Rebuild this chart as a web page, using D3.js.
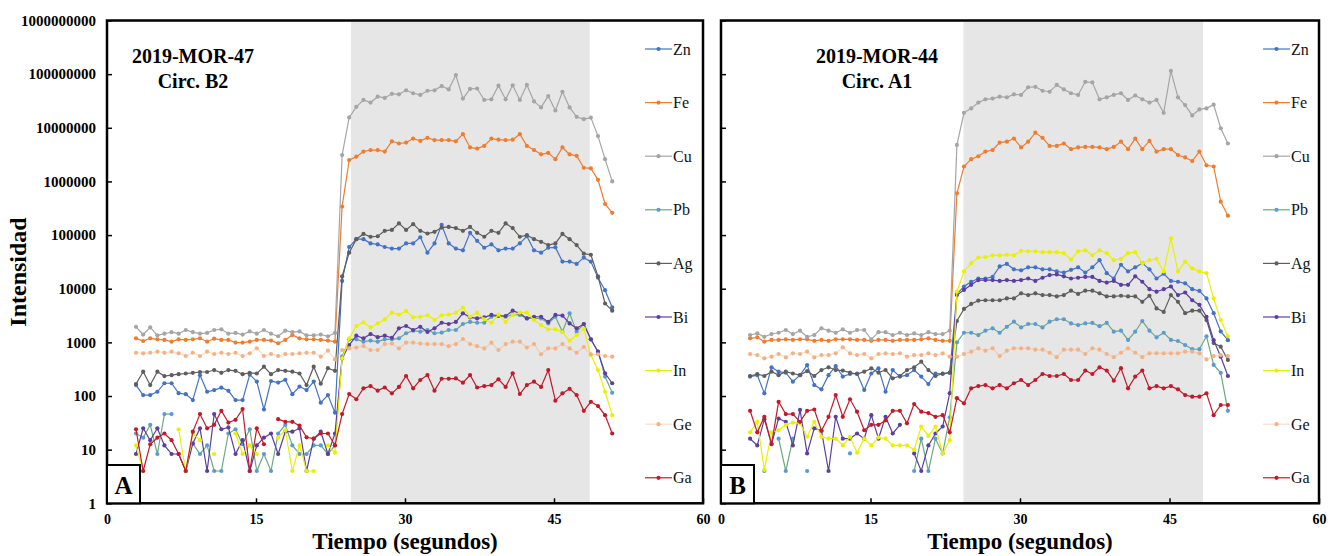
<!DOCTYPE html>
<html>
<head>
<meta charset="utf-8">
<script src="https://cdn.jsdelivr.net/npm/d3@7"></script>
<style>
  html, body { margin: 0; padding: 0; background: #fff; }
  svg { display: block; font-family: "Liberation Serif", "Times New Roman", serif; }
</style>
</head>
<body>
<script>
// Señal LA-ICP-MS por elemento (cps), dos inclusiones.
const tiempo = [2.92, 3.64, 4.35, 5.07, 5.78, 6.50, 7.21, 7.93, 8.64, 9.36, 10.08, 10.79, 11.51, 12.22,
  12.94, 13.65, 14.37, 15.08, 15.80, 16.51, 17.23, 17.95, 18.66, 19.38, 20.09, 20.81, 21.52, 22.24, 22.95,
  23.67, 24.38, 25.10, 25.82, 26.53, 27.25, 27.96, 28.68, 29.39, 30.11, 30.82, 31.54, 32.26, 32.97, 33.69,
  34.40, 35.12, 35.83, 36.55, 37.26, 37.98, 38.70, 39.41, 40.13, 40.84, 41.56, 42.27, 42.99, 43.70, 44.42,
  45.14, 45.85, 46.57, 47.28, 48.00, 48.71, 49.43, 50.14, 50.86];

const elementos = ["Zn", "Fe", "Cu", "Pb", "Ag", "Bi", "In", "Ge", "Ga"];
const ticksX = [0, 15, 30, 45, 60];
const ticksY = [1, 10, 100, 1e3, 1e4, 1e5, 1e6, 1e7, 1e8, 1e9];

// Intervalo de ablación (sombreado), en segundos
const sombraA = [24.55, 48.6];
const sombraB = [24.33, 48.36];

// ---- Panel A: 2019-MOR-47, Circ. B2
const znA = [160, 104, 104, 120, 173, 173, 113, 108, 84, 245, 120, 129, 143, 125, 84, 84, 250, 186, 56, 190, 178, 200, 108, 150, 129, 186, 75, 104, 49,
  1.4e4, 6.0e4, 8.4e4, 8.4e4, 7.0e4, 6.7e4, 6.0e4, 5.6e4, 5.6e4, 7.0e4, 7.0e4, 9.1e4, 4.7e4, 7.0e4, 1.55e5, 7.0e4, 5.6e4, 5.2e4, 1.1e5, 7.8e4,
  5.8e4, 6.7e4, 5.2e4, 5.6e4, 5.6e4, 7.0e4, 9.5e4, 5.2e4, 4.7e4, 5.8e4, 5.9e4, 3.2e4, 3.2e4, 2.9e4, 3.8e4, 3.2e4, 1.6e4, 9.4e3, 4.5e3];
const feA = [1190, 1060, 1190, 1140, 1110, 1030, 1140, 1110, 1140, 1190, 1030, 1170, 1110, 1110, 990, 990, 1030, 1110, 1110, 1080, 960, 1110, 1370, 1190, 1140, 1140, 1110, 1080, 1030,
  3.4e5, 2.5e6, 2.9e6, 3.6e6, 3.85e6, 3.85e6, 3.6e6, 5.6e6, 5.1e6, 5.3e6, 6.3e6, 5.7e6, 6.5e6, 5.9e6, 5.9e6, 5.9e6, 5.6e6, 7.6e6, 4.3e6, 4.1e6,
  4.6e6, 6.3e6, 6.0e6, 5.9e6, 6.0e6, 7.6e6, 4.6e6, 3.85e6, 3.2e6, 3.4e6, 2.6e6, 4.3e6, 3.2e6, 3.0e6, 1.8e6, 1.75e6, 1.07e6, 3.8e5, 2.6e5];
const cuA = [1950, 1400, 1900, 1350, 1450, 1550, 1450, 1700, 1550, 1450, 1500, 1700, 1750, 1450, 1500, 1400, 1600, 1450, 1700, 1450, 1300, 1650, 1550, 1600, 1350, 1350, 1400, 1300, 1500,
  3.1e6, 1.56e7, 2.46e7, 3.3e7, 2.95e7, 3.8e7, 3.6e7, 4.3e7, 4.2e7, 5.0e7, 4.4e7, 4.1e7, 4.9e7, 5.0e7, 6.0e7, 5.2e7, 9.6e7, 3.5e7, 5.3e7, 5.4e7,
  3.3e7, 3.4e7, 6.1e7, 3.4e7, 6.2e7, 3.3e7, 6.3e7, 3.1e7, 2.4e7, 3.9e7, 2.1e7, 4.7e7, 2.4e7, 1.6e7, 1.45e7, 1.55e7, 7.0e6, 2.6e6, 1.0e6];
const pbA = [20, 16.7, 29, 8.3, 46, 46, null, null, 13, 8.3, 12, 4, 4, 20, 24, 12.6, 24, 4, 8.3, 4, 20, 29, 12, 8.3, 8.3, 12, 12, 8.3, 12,
  550, 1140, 1140, 1030, 1080, 1030, 1140, 1140, 1190, 1480, 1650, 1580, 1700, 1480, 1520, 1700, 1700, 2200, 2400, 2320,
  2320, 3000, 3100, 3000, 3300, 3250, 2800, 2800, 2800, 2250, 3000, 1580, 3480, 1580, 2200, 1140, 670, 230, 115];
const agA = [167, 284, 160, 284, 235, 245, 255, 263, 270, 280, 280, 305, 270, 305, 295, 255, 270, 263, 352, 255, 305, 295, 284, 263, 160, 352, 170, 330, 295,
  1.7e4, 4.7e4, 8.4e4, 1.05e5, 9.3e4, 9.5e4, 1.2e5, 1.25e5, 1.65e5, 1.25e5, 1.6e5, 1.2e5, 1.07e5, 1.15e5, 1.38e5, 1.42e5, 1.35e5, 1.2e5, 1.42e5, 1.1e5,
  9.3e4, 1.2e5, 1.1e5, 1.65e5, 1.35e5, 9.3e4, 1.0e5, 8.4e4, 7.5e4, 6.5e4, 7.0e4, 1.05e5, 8.4e4, 6.5e4, 4.5e4, 4.3e4, 1.7e4, 5.3e3, 3.9e3];
const biA = [8.3, 25, 15, 25, 12, 8.3, 8.3, 4, 13, 25, 4, 46, 24, 26, 8.3, 15, 4, 12, 16.7, 20, 8.3, 21.6, 21.6, 25, 4, 16, 21.6, 8.3, 20,
  500, 890, 1330, 1190, 1430, 1250, 1330, 1220, 1830, 2020, 1700, 1950, 1560, 1830, 2320, 2200, 2400, 3480, 2930, 2800,
  2930, 3250, 3150, 3100, 3900, 3480, 2800, 3000, 3000, 2400, 3250, 3150, 2250, 1830, 2200, 1140, 670, 265, 173];
const inA = [12, 4, null, null, null, null, 24, 4, 20, 15, null, 8.3, null, null, 20, 8.3, 12, 8.3, null, null, 16.7, 23, 4, 12, 4, 4, null, 12, 8.8,
  505, 1190, 2020, 2350, 1900, 2250, 2700, 3570, 3300, 3850, 2930, 3000, 3200, 2610, 3200, 3300, 3570, 4430, 3000, 3570,
  2700, 2320, 3300, 2400, 3250, 3570, 3570, 2610, 2100, 1750, 1750, 1560, 1070, 1370, 1800, 580, 305, 120, 44];
const geA = [640, 625, 640, 670, 640, 670, 625, 557, 640, 557, 670, 607, 640, 607, 640, 557, 625, 775, 557, 607, 557, 607, 607, 625, 640, 640, 540, 700, 480,
  720, 770, 800, 850, 720, 720, 930, 950, 770, 985, 985, 950, 930, 930, 930, 850, 930, 1150, 930, 850,
  770, 985, 720, 930, 1030, 1030, 800, 930, 600, 770, 770, 930, 770, 640, 820, 600, 600, 557, 540];
const gaA = [24, 4, 12.6, 16.7, 20, 15, 8.3, 4, 21.6, 46, 25, 29, 53, 32, 36, 57, 4, 25, 12.6, null, 37, 33, 33, 28, 17, 16, 20, 20, 12,
  46, 109, 87, 139, 153, 126, 144, 112, 148, 236, 139, 199, 246, 126, 210, 210, 213, 177, 246, 144,
  153, 160, 205, 148, 265, 109, 160, 185, 148, 305, 82, 112, 136, 104, 53, 78, 65, 44, 20];

// ---- Panel B: 2019-MOR-44, Circ. A1
const znB = [230, 245, 112, 343, 284, 272, 185, 245, 378, 160, 133, 245, 363, 230, 257, 263, 130, 263, 328, 120, 305, 230, 245, 305, 230, 167, 263, 257, 272,
  8.0e3, 1.1e4, 1.35e4, 1.55e4, 1.55e4, 1.66e4, 2.6e4, 2.9e4, 2.3e4, 2.2e4, 2.5e4, 2.5e4, 2.3e4, 2.3e4, 2.1e4, 2.0e4, 2.25e4, 2.5e4, 2.0e4, 2.5e4,
  3.4e4, 1.95e4, 1.55e4, 2.8e4, 2.1e4, 2.5e4, 3.0e4, 2.3e4, 1.55e4, 1.9e4, 1.4e4, 1.35e4, 1.26e4, 9.8e3, 9.1e3, 6.6e3, 3.5e3, 1.6e3, 1.1e3];
const feB = [1190, 1240, 1030, 1110, 1110, 1140, 1110, 1140, 1140, 1070, 1110, 1070, 1140, 1140, 1140, 1110, 1110, 1070, 1110, 1110, 1070, 1110, 1110, 1110, 1140, 1190, 1110, 1070, 1070,
  6.0e5, 1.9e6, 2.6e6, 2.95e6, 3.6e6, 3.85e6, 5.3e6, 5.5e6, 6.3e6, 4.3e6, 5.5e6, 8.1e6, 6.5e6, 4.6e6, 4.6e6, 5.1e6, 4.0e6, 4.3e6, 4.4e6, 4.4e6,
  4.3e6, 4.0e6, 4.4e6, 5.5e6, 4.0e6, 6.3e6, 4.0e6, 5.7e6, 3.6e6, 4.0e6, 4.0e6, 3.1e6, 2.8e6, 2.4e6, 3.6e6, 2.0e6, 1.9e6, 4.2e5, 2.3e5];
const cuB = [1370, 1470, 1270, 1430, 1510, 1700, 1430, 1650, 1270, 1370, 1830, 1650, 1510, 1750, 1510, 1700, 1700, 1140, 1550, 1550, 1370, 1510, 1370, 1470, 1370, 1550, 1430, 1430, 1650,
  4.8e6, 1.9e7, 2.3e7, 2.95e7, 3.4e7, 3.5e7, 3.8e7, 3.7e7, 4.2e7, 4.1e7, 5.7e7, 5.8e7, 4.9e7, 4.7e7, 6.3e7, 5.2e7, 4.4e7, 4.1e7, 7.2e7, 7.0e7,
  3.4e7, 3.7e7, 4.1e7, 4.4e7, 3.3e7, 4.0e7, 3.4e7, 2.95e7, 3.3e7, 1.9e7, 1.15e8, 3.7e7, 2.65e7, 1.7e7, 2.2e7, 2.3e7, 2.7e7, 9.8e6, 5.1e6];
const pbB = [4, null, 4, null, 16, 4, 16, null, 4, null, null, null, null, null, 8.5, null, null, null, null, null, null, null, null, 4, 16, 4, 16, 8.5, 40,
  1000, 1510, 1510, 1370, 1650, 1830, 1510, 1950, 2430, 1900, 2200, 2200, 1900, 2430, 2700, 2700, 2250, 2100, 2250, 2300,
  2000, 2300, 1580, 1650, 1110, 1580, 2500, 1650, 1240, 1510, 1110, 1060, 890, 745, 745, 1300, 380, 270, 53];
const agB = [236, 257, 236, 284, 245, 284, 263, 245, 292, 236, 305, 343, 305, 298, 272, 257, 284, 328, 272, 305, 214, 236, 305, 343, 436, 305, 236, 263, 272,
  2.5e3, 4.2e3, 5.2e3, 6.0e3, 6.1e3, 6.1e3, 6.1e3, 6.6e3, 6.6e3, 8.2e3, 7.6e3, 8.2e3, 7.6e3, 7.6e3, 7.2e3, 7.6e3, 9.2e3, 8.0e3, 9.2e3, 9.2e3,
  8.2e3, 7.2e3, 7.2e3, 7.4e3, 7.2e3, 7.2e3, 5.7e3, 7.4e3, 4.3e3, 3.7e3, 7.6e3, 5.7e3, 3.5e3, 3.9e3, 3.9e3, 2.6e3, 970, 830, 470];
const biB = [16, 12, 37, 12.7, 38, 33, 12, 55, 8.5, 25, 22.5, 4, 41, 16, 16, 20, 16, 44, 16, 41, 20, 29, null, 8.5, 4, 12, 20, 27, 113,
  7.6e3, 9.5e3, 1.18e4, 1.45e4, 1.45e4, 1.45e4, 1.4e4, 1.45e4, 1.4e4, 1.45e4, 1.55e4, 1.4e4, 1.6e4, 1.8e4, 1.85e4, 1.7e4, 1.55e4, 1.6e4, 1.66e4, 1.66e4,
  1.4e4, 1.3e4, 1.4e4, 1.18e4, 1.18e4, 1.7e4, 1.35e4, 9.8e3, 8.8e3, 9.8e3, 1.1e4, 7.6e3, 8.5e3, 6.1e3, 5.0e3, 3.0e3, 1.1e3, 540, 236];
const inB = [21, 33, 4.2, 21, 23, 29, 32, 31, 17.4, 33, 17.4, 16, 16, 12, 17.4, 8.8, 16, 12, 17, 16, 12, 12, 12, 10, 27, 18, 27, 8.5, 15,
  8.8e3, 2.1e4, 3.0e4, 3.8e4, 3.9e4, 4.2e4, 4.2e4, 4.3e4, 4.2e4, 5.1e4, 5.0e4, 5.0e4, 4.8e4, 4.8e4, 4.8e4, 4.6e4, 3.5e4, 5.0e4, 5.2e4, 4.2e4,
  5.2e4, 4.6e4, 3.4e4, 3.6e4, 4.6e4, 4.8e4, 3.0e4, 3.4e4, 3.6e4, 2.1e4, 8.7e4, 2.1e4, 3.2e4, 2.4e4, 2.1e4, 1.95e4, 6.6e3, 2.6e3, 1.3e3];
const geB = [607, 580, 505, 540, 607, 525, 625, 607, 670, 525, 580, 580, 625, 810, 625, 580, 607, 505, 607, 625, 607, 625, 540, 580, 580, 625, 580, 625, 540,
  540, 607, 670, 775, 700, 775, 555, 700, 775, 775, 775, 730, 730, 640, 530, 730, 730, 730, 607, 775,
  730, 607, 530, 640, 775, 640, 530, 625, 625, 625, 625, 625, 670, 670, 625, 480, 555, 580, 555];
const gaB = [53, 21, 41, 12.7, 78, 46, 46, 33, 53, 56, 22.5, 41, 104, 41, 87, 51, 23, 29, 29, 35, 53, 53, 31, 71, 51, 48, 41, 44, 21,
  91, 73, 139, 153, 160, 139, 160, 139, 173, 199, 160, 199, 257, 236, 236, 257, 199, 199, 298, 257,
  343, 298, 193, 330, 139, 230, 298, 139, 153, 139, 153, 133, 104, 97, 97, 112, 44, 68, 68];

// Colores estilo Excel (línea / marcador)
const colorLinea = {Zn: "#4472C4", Fe: "#ED7D31", Cu: "#A5A5A5", Pb: "#6AAA7E", Ag: "#5E5E5E",
  Bi: "#5B3F9E", In: "#EAF000", Ge: "#F4B183", Ga: "#BF1B2C"};
const colorMarca = {...colorLinea, Pb: "#5B9BD5"};

const W = 1338, H = 556;
const yTop = 20.5, yBot = 503.3;

const svg = d3.select("body").append("svg")
  .attr("width", W).attr("height", H)
  .attr("viewBox", [0, 0, W, H]);

function panel({x0, x1, series, sombra, titulo, letra, etiquetasY, legendX}) {
  const x = d3.scaleLinear().domain([0, 60]).range([x0, x1]);
  const y = d3.scaleLog().domain([1, 1e9]).range([yBot, yTop]);
  const g = svg.append("g");

  // Zona de ablación
  g.append("rect")
    .attr("x", x(sombra[0])).attr("y", yTop)
    .attr("width", x(sombra[1]) - x(sombra[0])).attr("height", yBot - yTop)
    .attr("fill", "#e6e6e6");

  const line = d3.line()
    .defined(d => d[1] != null)
    .x(d => x(d[0])).y(d => y(d[1]));

  series.forEach((vals, k) => {
    const el = elementos[k];
    const pts = tiempo.map((t, i) => [t, vals[i]]);
    g.append("path")
      .attr("d", line(pts))
      .attr("fill", "none")
      .attr("stroke", colorLinea[el])
      .attr("stroke-width", 1.2)
      .attr("stroke-opacity", el === "Ge" ? 0.45 : 1);
    g.append("g").selectAll("circle")
      .data(pts.filter(d => d[1] != null))
      .join("circle")
      .attr("cx", d => x(d[0])).attr("cy", d => y(d[1]))
      .attr("r", 2.1)
      .attr("fill", colorMarca[el]);
  });

  // Leyenda
  elementos.forEach((el, k) => {
    const ly = 49 + k * 53.6;
    g.append("line")
      .attr("x1", legendX).attr("x2", legendX + 27)
      .attr("y1", ly).attr("y2", ly)
      .attr("stroke", colorLinea[el]).attr("stroke-width", 1.2)
      .attr("stroke-opacity", el === "Ge" ? 0.45 : 1);
    g.append("circle")
      .attr("cx", legendX + 13.5).attr("cy", ly).attr("r", 2.1)
      .attr("fill", colorMarca[el]);
    g.append("text")
      .attr("x", legendX + 28).attr("y", ly + 5.5)
      .attr("font-size", 16).attr("fill", "#111")
      .text(el);
  });

  // Ejes (ticks hacia dentro)
  const ay = g.append("g").attr("transform", `translate(${x0},0)`)
    .call(d3.axisLeft(y).tickValues(ticksY).tickSize(-5).tickPadding(11)
      .tickFormat(etiquetasY ? d3.format("d") : ""));
  ay.select(".domain").remove();
  ay.selectAll("line").attr("stroke", "#000").attr("stroke-width", 1.5);
  ay.selectAll("text").attr("font-size", 15).attr("font-weight", "bold").attr("fill", "#000")
    .attr("font-family", "Liberation Serif, serif");

  const ax = g.append("g").attr("transform", `translate(0,${yBot})`)
    .call(d3.axisBottom(x).tickValues(ticksX).tickSize(-5).tickPadding(11));
  ax.select(".domain").remove();
  ax.selectAll("line").attr("stroke", "#000").attr("stroke-width", 1.5);
  ax.selectAll("text").attr("font-size", 14).attr("font-weight", "bold").attr("fill", "#000")
    .attr("font-family", "Liberation Serif, serif");

  // Marco
  g.append("rect")
    .attr("x", x0).attr("y", yTop)
    .attr("width", x1 - x0).attr("height", yBot - yTop)
    .attr("fill", "none").attr("stroke", "#000").attr("stroke-width", 2.5);

  // Título de la muestra
  const cx = x0 + 86 + (letra === "B" ? 70 : 0);
  titulo.forEach((t, i) => {
    g.append("text")
      .attr("x", cx).attr("y", 63 + i * 25)
      .attr("text-anchor", "middle")
      .attr("font-size", 20).attr("font-weight", "bold")
      .text(t);
  });

  // Recuadro con la letra del panel
  g.append("rect")
    .attr("x", x0).attr("y", 465)
    .attr("width", 33).attr("height", yBot - 465)
    .attr("fill", "#fff").attr("stroke", "#000").attr("stroke-width", 2);
  g.append("text")
    .attr("x", x0 + 16.5).attr("y", 494)
    .attr("text-anchor", "middle")
    .attr("font-size", 25).attr("font-weight", "bold")
    .text(letra);

  // Título del eje X
  g.append("text")
    .attr("x", x(30)).attr("y", 549)
    .attr("text-anchor", "middle")
    .attr("font-size", 23).attr("font-weight", "bold")
    .text("Tiempo (segundos)");
}

panel({x0: 107, x1: 703, series: [znA, feA, cuA, pbA, agA, biA, inA, geA, gaA],
  sombra: sombraA, titulo: ["2019-MOR-47", "Circ. B2"], letra: "A", etiquetasY: true, legendX: 645});
panel({x0: 721, x1: 1319, series: [znB, feB, cuB, pbB, agB, biB, inB, geB, gaB],
  sombra: sombraB, titulo: ["2019-MOR-44", "Circ. A1"], letra: "B", etiquetasY: false, legendX: 1263});

// Título del eje Y
svg.append("text")
  .attr("transform", "translate(26,272) rotate(-90)")
  .attr("text-anchor", "middle")
  .attr("font-size", 24).attr("font-weight", "bold")
  .text("Intensidad");
</script>
</body>
</html>
